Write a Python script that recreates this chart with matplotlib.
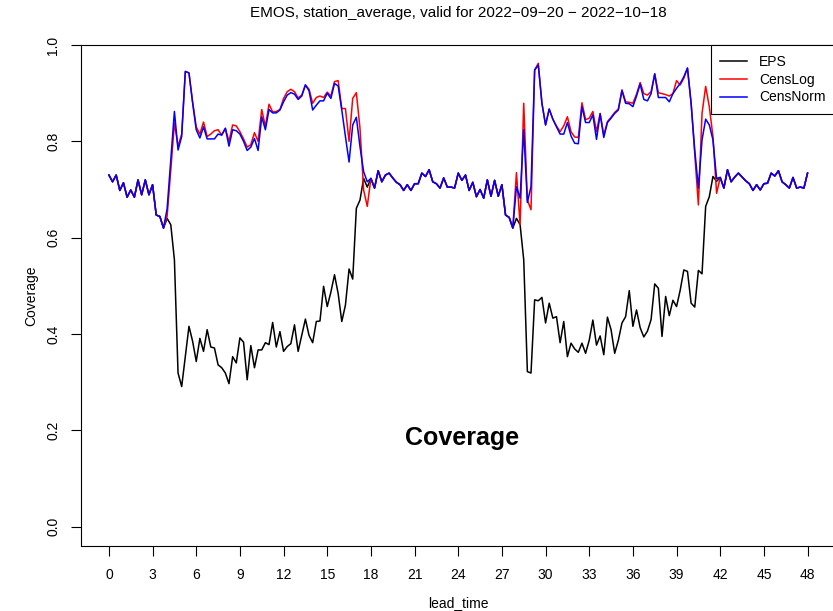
import numpy as np
import matplotlib
matplotlib.use("Agg")
import matplotlib.pyplot as plt

plt.rcParams['font.family'] = ['Liberation Sans', 'DejaVu Sans']

lead_time = np.arange(0, 48.25, 0.25)

# stretches where all three methods coincide
flat_start = [0.730, 0.716, 0.730, 0.698, 0.714, 0.684, 0.699, 0.684,
              0.720, 0.689, 0.720, 0.689, 0.710, 0.647, 0.644, 0.620]
flat_mid = [0.723, 0.703, 0.739, 0.716, 0.730, 0.734, 0.724, 0.715,
            0.710, 0.698, 0.710, 0.698, 0.712, 0.712, 0.734, 0.727,
            0.741, 0.716, 0.712, 0.703, 0.724, 0.705, 0.705, 0.703,
            0.734, 0.719, 0.730, 0.698, 0.715, 0.685, 0.700, 0.682,
            0.720, 0.686, 0.719, 0.686, 0.710, 0.647, 0.642, 0.620]
flat_end = [0.725, 0.703, 0.741, 0.716, 0.726, 0.734, 0.726, 0.718,
            0.712, 0.698, 0.710, 0.699, 0.712, 0.713, 0.734, 0.728,
            0.739, 0.716, 0.710, 0.703, 0.725, 0.703, 0.705, 0.703, 0.734]

# first day, lead 4.0 .. 17.75
eps_day1 = [0.640, 0.627, 0.554, 0.319, 0.291, 0.353, 0.416, 0.385,
            0.343, 0.391, 0.364, 0.409, 0.373, 0.371, 0.336, 0.330,
            0.319, 0.297, 0.353, 0.340, 0.392, 0.383, 0.305, 0.376,
            0.330, 0.367, 0.367, 0.382, 0.378, 0.424, 0.373, 0.405,
            0.364, 0.374, 0.380, 0.419, 0.364, 0.398, 0.431, 0.397,
            0.382, 0.426, 0.427, 0.499, 0.457, 0.487, 0.523, 0.484,
            0.426, 0.460, 0.535, 0.514, 0.661, 0.678, 0.723, 0.705]
clog_day1 = [0.645, 0.740, 0.838, 0.790, 0.815, 0.945, 0.942, 0.882,
             0.830, 0.815, 0.840, 0.810, 0.815, 0.822, 0.824, 0.813,
             0.827, 0.800, 0.834, 0.832, 0.820, 0.805, 0.788, 0.793,
             0.818, 0.800, 0.866, 0.831, 0.877, 0.861, 0.862, 0.866,
             0.889, 0.903, 0.908, 0.903, 0.890, 0.896, 0.917, 0.908,
             0.879, 0.891, 0.894, 0.891, 0.902, 0.894, 0.924, 0.926,
             0.868, 0.868, 0.800, 0.889, 0.901, 0.827, 0.699, 0.665]
cnorm_day1 = [0.660, 0.761, 0.862, 0.782, 0.810, 0.945, 0.942, 0.880,
              0.824, 0.807, 0.830, 0.805, 0.805, 0.805, 0.815, 0.813,
              0.827, 0.790, 0.824, 0.822, 0.815, 0.800, 0.781, 0.788,
              0.806, 0.781, 0.851, 0.824, 0.866, 0.859, 0.859, 0.865,
              0.882, 0.896, 0.901, 0.898, 0.887, 0.894, 0.917, 0.905,
              0.865, 0.875, 0.884, 0.884, 0.900, 0.889, 0.920, 0.915,
              0.865, 0.810, 0.757, 0.834, 0.850, 0.789, 0.737, 0.716]

# second day, lead 28.0 .. 41.75
eps_day2 = [0.640, 0.627, 0.554, 0.322, 0.319, 0.471, 0.469, 0.476,
            0.423, 0.464, 0.433, 0.436, 0.382, 0.426, 0.353, 0.381,
            0.369, 0.362, 0.381, 0.360, 0.387, 0.429, 0.377, 0.396,
            0.357, 0.435, 0.409, 0.360, 0.387, 0.423, 0.436, 0.490,
            0.416, 0.450, 0.413, 0.394, 0.406, 0.430, 0.504, 0.495,
            0.395, 0.478, 0.438, 0.470, 0.457, 0.491, 0.533, 0.530,
            0.464, 0.456, 0.532, 0.525, 0.665, 0.685, 0.727, 0.717]
clog_day2 = [0.735, 0.627, 0.879, 0.678, 0.658, 0.948, 0.962, 0.879,
             0.834, 0.867, 0.846, 0.832, 0.820, 0.832, 0.851, 0.820,
             0.809, 0.808, 0.880, 0.845, 0.848, 0.862, 0.820, 0.858,
             0.813, 0.841, 0.850, 0.860, 0.867, 0.907, 0.882, 0.881,
             0.879, 0.898, 0.922, 0.899, 0.896, 0.903, 0.940, 0.901,
             0.899, 0.897, 0.894, 0.899, 0.926, 0.917, 0.931, 0.952,
             0.879, 0.775, 0.668, 0.858, 0.914, 0.872, 0.810, 0.692]
cnorm_day2 = [0.706, 0.682, 0.824, 0.673, 0.706, 0.948, 0.958, 0.879,
              0.834, 0.867, 0.846, 0.830, 0.815, 0.815, 0.839, 0.811,
              0.796, 0.795, 0.872, 0.839, 0.839, 0.855, 0.804, 0.857,
              0.808, 0.839, 0.848, 0.858, 0.865, 0.905, 0.879, 0.878,
              0.872, 0.894, 0.919, 0.887, 0.884, 0.899, 0.940, 0.891,
              0.891, 0.891, 0.882, 0.899, 0.910, 0.920, 0.934, 0.952,
              0.879, 0.782, 0.703, 0.803, 0.846, 0.834, 0.803, 0.723]

eps = flat_start + eps_day1 + flat_mid + eps_day2 + flat_end
censlog = flat_start + clog_day1 + flat_mid + clog_day2 + flat_end
censnorm = flat_start + cnorm_day1 + flat_mid + cnorm_day2 + flat_end

fig = plt.figure(figsize=(8.33, 6.11), dpi=100)
ax = fig.add_axes([0.0972, 0.1064, 0.9058, 0.82])

ax.plot(lead_time, eps, color="black", lw=1.1, label="EPS")
ax.plot(lead_time, censlog, color="red", lw=1.1, label="CensLog")
ax.plot(lead_time, censnorm, color="blue", lw=1.1, label="CensNorm")

ax.set_xlim(-1.92, 49.92)
ax.set_ylim(-0.04, 1.0)
ax.set_xticks(np.arange(0, 49, 3))
ax.set_yticks([0.0, 0.2, 0.4, 0.6, 0.8, 1.0])
ax.set_yticklabels(["0.0", "0.2", "0.4", "0.6", "0.8", "1.0"], rotation=90, va="center")
ax.tick_params(axis="both", direction="out", length=7, width=0.8, labelsize=10)
ax.tick_params(axis="x", pad=9)
ax.tick_params(axis="y", pad=8)
for s in ax.spines.values():
    s.set_linewidth(0.8)

ax.set_xlabel("lead_time", fontsize=10, labelpad=10)
ax.set_ylabel("Coverage", fontsize=10, labelpad=6)
fig.text(0.55, 0.978, "EMOS, station_average, valid for 2022\u221209\u221220 \u2212 2022\u221210\u221218",
         ha="center", va="center", fontsize=11)

ax.text(24.25, 0.185, "Coverage", ha="center", va="center", fontsize=18, fontweight="bold")

leg = ax.legend(loc="upper right", bbox_to_anchor=(1.0, 1.0), borderaxespad=0,
                fancybox=False, edgecolor="black", framealpha=1, fontsize=10,
                handlelength=1.9, handletextpad=0.9, labelspacing=0.28, borderpad=0.7)
leg.get_frame().set_linewidth(0.8)

fig.savefig("out.png", dpi=100)
